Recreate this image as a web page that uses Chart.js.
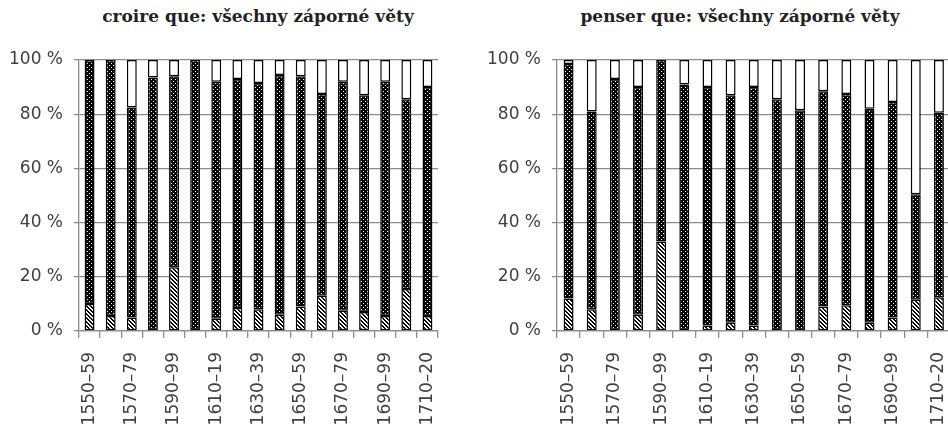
<!DOCTYPE html>
<html>
<head>
<meta charset="utf-8">
<script src="https://cdn.jsdelivr.net/npm/chart.js@4.4.1/dist/chart.umd.min.js"></script>
<style>
    html, body { margin: 0; padding: 0; background: #fff; overflow: hidden; }
    body { width: 948px; height: 432px; position: relative; }
    .box { position: absolute; top: 0; height: 432px; }
    .titulo { position: absolute; top: 6px; font: bold 17px "DejaVu Serif"; color: #222; white-space: nowrap; transform: translateX(-50%); }
</style>
</head>
<body>
<div class="titulo" id="t1" style="left: 258px;">croire que: všechny záporné věty</div>
<div class="titulo" id="t2" style="left: 740px;">penser que: všechny záporné věty</div>
<div class="box" style="left: 0; width: 474px;"><canvas id="graf1" width="474" height="432"></canvas></div>
<div class="box" style="left: 474px; width: 500px;"><canvas id="graf2" width="500" height="432"></canvas></div>
<script>
var obdobi = ['1550–59', '1560–69', '1570–79', '1580–89', '1590–99', '1600–09', '1610–19', '1620–29', '1630–39',
    '1640–49', '1650–59', '1660–69', '1670–79', '1680–89', '1690–99', '1700–09', '1710–20'];
var yTicks = [0, 20, 40, 60, 80, 100];

// croire que (procenta)
var croireSrafa = [10, 5.5, 5, 0, 23.5, 0, 4.5, 8.5, 8, 6, 9, 13, 7.5, 7, 5.5, 15.5, 5.5];
var croireTecky = [90, 94.5, 77.5, 93.5, 70.5, 100, 87.5, 84.5, 83.5, 88.5, 85, 74.5, 84.5, 80, 86.5, 70, 84.5];
var croireBila = [0, 0, 17.5, 6.5, 6, 0, 8, 7, 8.5, 5.5, 6, 12.5, 8, 13, 8, 14.5, 10];

// penser que (procenta)
var penserSrafa = [12, 8, 0, 6, 33, 0, 2, 3, 2, 0, 0, 9, 9.5, 3, 5, 11.5, 12.5];
var penserTecky = [86.5, 73, 93, 84, 67, 91, 88, 84, 88, 85.5, 81.5, 79.5, 78, 79, 79.5, 39, 68];
var penserBila = [1.5, 19, 7, 10, 0, 9, 10, 13, 10, 14.5, 18.5, 11.5, 12.5, 18, 15.5, 49.5, 19.5];

//Vzory vyplne
function vzorTecky() {
    let c = document.createElement('canvas');
    c.width = 4; c.height = 4;
    let g = c.getContext('2d');
    g.fillStyle = '#000';
    g.fillRect(0, 0, 4, 4);
    g.fillStyle = '#fff';
    g.fillRect(1, 1, 1, 1);
    g.fillRect(3, 3, 1, 1);
    return g.createPattern(c, 'repeat');
}

function vzorSrafa() {
    let c = document.createElement('canvas');
    c.width = 4; c.height = 4;
    let g = c.getContext('2d');
    g.fillStyle = '#fff';
    g.fillRect(0, 0, 4, 4);
    g.fillStyle = '#000';
    // diagonala "\" o siree 2 px
    for (let y = 0; y < 4; y++) {
        for (let x = 0; x < 4; x++) {
            let d = ((x - y) % 4 + 4) % 4;
            if (d === 0 || d === 1) g.fillRect(x, y, 1, 1);
        }
    }
    return g.createPattern(c, 'repeat');
}

var seda = '#8c8c8c';
var pismo = {family: 'DejaVu Sans', size: 17};

function vytvorGraf(id, srafa, tecky, bila, padLeft, padRight, barPct) {
    let ctx = document.getElementById(id).getContext('2d');
    let spolecne = {borderColor: '#000', borderWidth: 1.5, borderSkipped: false,
        barPercentage: barPct, categoryPercentage: 1};
    let data = {
        labels: obdobi,
        datasets: [
            Object.assign({label: 'šrafa', data: srafa, backgroundColor: vzorSrafa()}, spolecne),
            Object.assign({label: 'tečky', data: tecky, backgroundColor: vzorTecky()}, spolecne),
            Object.assign({label: 'bílá', data: bila, backgroundColor: '#fff'}, spolecne)
        ]
    };
    const config = {
        type: 'bar',
        data,
        options: {
            responsive: false,
            animation: false,
            layout: {padding: {top: 60, left: padLeft, right: padRight, bottom: 0}},
            plugins: {legend: {display: false}, tooltip: {enabled: false}},
            scales: {
                x: {
                    stacked: true,
                    offset: true,
                    grid: {drawOnChartArea: false, drawTicks: true, tickLength: 7, color: seda, lineWidth: 1.3},
                    border: {color: seda, width: 1.3},
                    ticks: {
                        autoSkip: false, minRotation: 90, maxRotation: 90, padding: 14,
                        color: '#404040', font: pismo,
                        callback: function (v, i) { return i % 2 === 0 ? obdobi[i] : ''; }
                    },
                    afterFit: function (s) { s.height = 101; }
                },
                y: {
                    stacked: true,
                    min: 0, max: 100,
                    afterBuildTicks: function (s) { s.ticks = yTicks.map(function (v) { return {value: v}; }); },
                    grid: {color: seda, lineWidth: 1.3, tickLength: 5},
                    border: {color: seda, width: 1.3},
                    ticks: {
                        padding: 11, color: '#404040', font: pismo,
                        callback: function (v) { return v + ' %'; }
                    },
                    afterFit: function (s) { s.width = 70; }
                }
            }
        }
    };
    return new Chart(ctx, config);
}

var graf1 = vytvorGraf('graf1', croireSrafa, croireTecky, croireBila, 9, 36, 0.47);
var graf2 = vytvorGraf('graf2', penserSrafa, penserTecky, penserBila, 13, 23, 0.43);
</script>
</body>
</html>
